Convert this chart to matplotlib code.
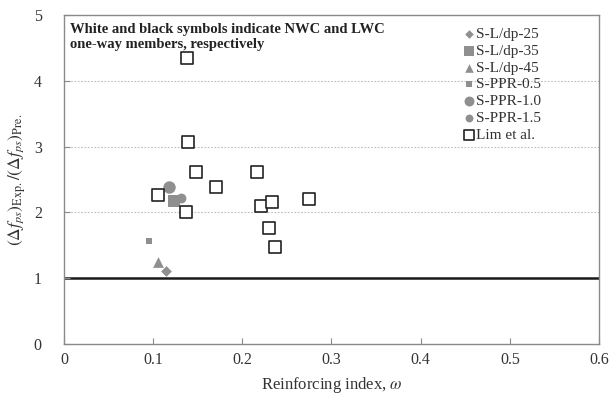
import matplotlib
matplotlib.use("Agg")
import matplotlib.pyplot as plt

plt.rcParams['font.family'] = ['Liberation Serif', 'DejaVu Serif']
plt.rcParams['mathtext.fontset'] = 'stix'

# Test specimens (gray markers)
sl25_x, sl25_y = [0.1147], [1.11]
sl35_x, sl35_y = [0.123], [2.18]
sl45_x, sl45_y = [0.1053], [1.24]
ppr05_x, ppr05_y = [0.0952], [1.57]
ppr10_x, ppr10_y = [0.1177], [2.39]
ppr15_x, ppr15_y = [0.1315], [2.22]

# Lim et al. data (open squares)
lim_x = [0.1383, 0.1394, 0.148, 0.1053, 0.1364, 0.171, 0.217, 0.221, 0.233, 0.230, 0.237, 0.275]
lim_y = [4.34, 3.07, 2.61, 2.27, 2.01, 2.39, 2.61, 2.09, 2.16, 1.77, 1.47, 2.21]

x_ticks = [0, 0.1, 0.2, 0.3, 0.4, 0.5, 0.6]
x_ticklabels = ['0', '0.1', '0.2', '0.3', '0.4', '0.5', '0.6']
y_ticks = [0, 1, 2, 3, 4, 5]

gray = '#8f8f8f'
spine = '#8a8a8a'

fig = plt.figure(figsize=(6.14, 4.01), dpi=100)
ax = fig.add_axes([0.1042, 0.1421, 0.8714, 0.8205])

for yy in [2, 3, 4]:
    ax.axhline(yy, color='#bdbdbd', lw=0.8, ls=(0, (1.5, 1.5)), zorder=0)
ax.axhline(1, color='#1a1a1a', lw=1.8, zorder=1)

ax.scatter(sl25_x, sl25_y, marker='D', s=30, color=gray, lw=0, label='S-L/dp-25', zorder=3)
ax.scatter(sl35_x, sl35_y, marker='s', s=75, color=gray, lw=0, label='S-L/dp-35', zorder=3)
ax.scatter(sl45_x, sl45_y, marker='^', s=60, color=gray, lw=0, label='S-L/dp-45', zorder=3)
ax.scatter(ppr05_x, ppr05_y, marker='s', s=25, color=gray, lw=0, label='S-PPR-0.5', zorder=3)
ax.scatter(ppr10_x, ppr10_y, marker='o', s=80, color=gray, lw=0, label='S-PPR-1.0', zorder=3)
ax.scatter(ppr15_x, ppr15_y, marker='o', s=50, color=gray, lw=0, label='S-PPR-1.5', zorder=3)
ax.scatter(lim_x, lim_y, marker='s', s=70, facecolor='white', edgecolor='#222222', lw=1.2,
           label='Lim et al.', zorder=4)

ax.set_xlim(0, 0.6)
ax.set_ylim(0, 5)
ax.set_xticks(x_ticks)
ax.set_xticklabels(x_ticklabels)
ax.set_yticks(y_ticks)
ax.tick_params(axis='both', direction='in', length=4, color=spine, labelsize=11.5,
               labelcolor='#333333')
ax.tick_params(axis='x', pad=6)
ax.tick_params(axis='y', pad=16)
for s in ax.spines.values():
    s.set_color(spine)
    s.set_linewidth(1.0)

ax.set_xlabel(r'Reinforcing index, $\omega$', fontsize=12, color='#333333', labelpad=5)
ax.set_ylabel(r'$(\Delta f_{ps})_{\mathrm{Exp.}}/(\Delta f_{ps})_{\mathrm{Pre.}}$',
              fontsize=12.5, color='#333333', labelpad=4)

ax.text(0.012, 0.975, 'White and black symbols indicate NWC and LWC\none-way members, respectively',
        transform=ax.transAxes, ha='left', va='top', fontsize=10.5, fontweight='bold',
        color='#222222', linespacing=1.15)

leg = ax.legend(loc='upper right', bbox_to_anchor=(0.912, 0.995), frameon=False, fontsize=11,
                handletextpad=0.0, labelspacing=0.2, borderaxespad=0.3, handlelength=1.0,
                scatterpoints=1, markerscale=0.8)
for t in leg.get_texts():
    t.set_color('#333333')

fig.savefig('out.png', dpi=100)
